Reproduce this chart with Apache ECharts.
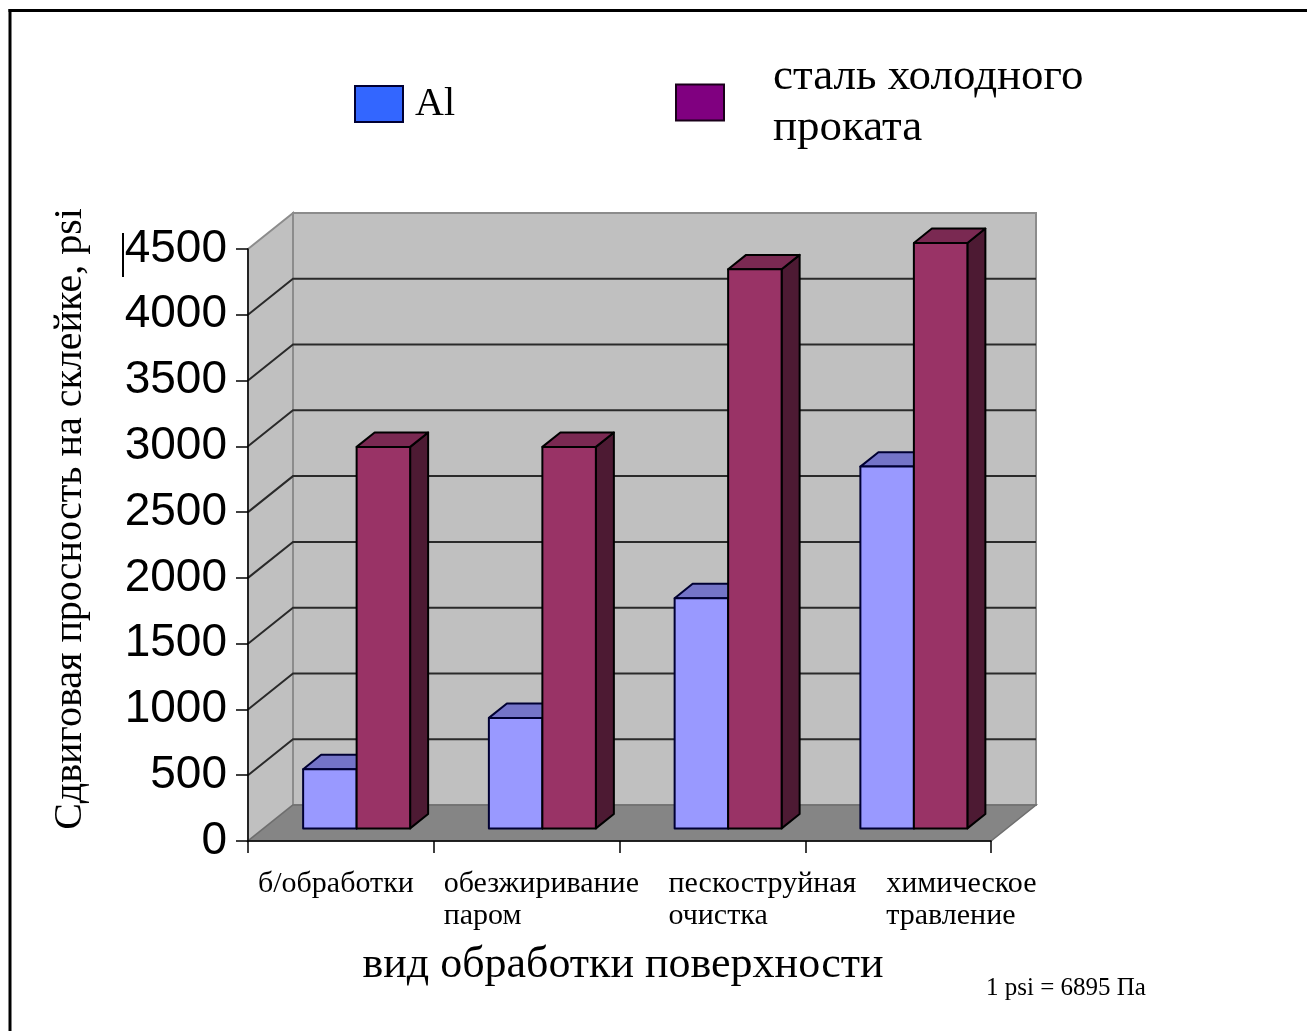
<!DOCTYPE html>
<html>
<head>
<meta charset="utf-8">
<script src="https://cdn.jsdelivr.net/npm/echarts@6/dist/echarts.min.js"></script>
<style>
  html, body { margin: 0; padding: 0; background: #ffffff; overflow: hidden; }
  #chart { width: 1307px; height: 1031px; }
</style>
</head>
<body>
<div id="chart"></div>
<script>
// Surface treatment categories (x axis)
const categories = ['б/обработки', 'обезжиривание\nпаром', 'пескоструйная\nочистка', 'химическое\nтравление'];
// Series names
const seriesNames = ['Al', 'сталь холодного\nпроката'];
// Shear strength of the bonded joint, psi
const alValues = [450, 840, 1750, 2750];
const steelValues = [2900, 2900, 4250, 4450];
// Value axis ticks
const yTicks = [0, 500, 1000, 1500, 2000, 2500, 3000, 3500, 4000, 4500];

const yAxisTitle = 'Сдвиговая просность на склейке, psi';
const xAxisTitle = 'вид обработки поверхности';
const unitNote = '1 psi = 6895 Па';

// --- pseudo-3D layout ---
const DEPTH_X = 45, DEPTH_Y = -36;        // wall depth offset in px
const BAR_FRONT = 0.35, BAR_BACK = 0.75;  // bar depth range as a share of wall depth
const BAR_SHARE = 0.288;                  // bar width as share of category band
const LABEL_SHIFT = [10, 10, 49, 81];     // category label offset from band start

const serif = '"Liberation Serif", "Times New Roman", serif';
const sans = '"Liberation Sans", Arial, sans-serif';

const WALL = '#c0c0c0', WALL_EDGE = '#8c8c8c', FLOOR = '#858585', GRID = '#2a2a2a';

function wallsItem(params, api) {
  const cs = params.coordSys;
  const l = cs.x, r = cs.x + cs.width, t = cs.y, b = cs.y + cs.height;
  return {
    type: 'group',
    children: [
      { type: 'polygon', shape: { points: [[l, t], [l + DEPTH_X, t + DEPTH_Y], [l + DEPTH_X, b + DEPTH_Y], [l, b]] },
        style: { fill: WALL, stroke: WALL_EDGE, lineWidth: 2 } },
      { type: 'rect', shape: { x: l + DEPTH_X, y: t + DEPTH_Y, width: cs.width, height: cs.height },
        style: { fill: WALL, stroke: WALL_EDGE, lineWidth: 2 } },
      { type: 'polygon', shape: { points: [[l, b], [r, b], [r + DEPTH_X, b + DEPTH_Y], [l + DEPTH_X, b + DEPTH_Y]] },
        style: { fill: FLOOR, stroke: '#6e6e6e', lineWidth: 1.5 } }
    ]
  };
}

function gridItem(params, api) {
  const cs = params.coordSys;
  const y = api.coord([0, api.value(1)])[1];
  const l = cs.x, r = cs.x + cs.width;
  return {
    type: 'polyline',
    shape: { points: [[l, y], [l + DEPTH_X, y + DEPTH_Y], [r + DEPTH_X, y + DEPTH_Y]] },
    style: { stroke: GRID, lineWidth: 2, fill: null }
  };
}

function barRenderer(slot, colors) {
  return function (params, api) {
    const idx = api.value(0), v = api.value(1);
    const band = api.size([1, 0])[0];
    const base = api.coord([idx, 0]);
    const top = api.coord([idx, v]);
    const bw = band * BAR_SHARE;
    const fx = DEPTH_X * BAR_FRONT, fy = DEPTH_Y * BAR_FRONT;
    const dx = DEPTH_X * (BAR_BACK - BAR_FRONT), dy = DEPTH_Y * (BAR_BACK - BAR_FRONT);
    const x0 = base[0] + fx + (slot - 1) * bw, x1 = x0 + bw;
    const yb = base[1] + fy, yt = top[1] + fy;
    const st = { stroke: colors.edge, lineWidth: 2, lineJoin: 'round' };
    return {
      type: 'group',
      children: [
        { type: 'polygon', shape: { points: [[x1, yt], [x1 + dx, yt + dy], [x1 + dx, yb + dy], [x1, yb]] },
          style: Object.assign({ fill: colors.side }, st) },
        { type: 'polygon', shape: { points: [[x0, yt], [x1, yt], [x1 + dx, yt + dy], [x0 + dx, yt + dy]] },
          style: Object.assign({ fill: colors.top }, st) },
        { type: 'rect', shape: { x: x0, y: yt, width: bw, height: yb - yt },
          style: Object.assign({ fill: colors.front }, st) }
      ]
    };
  };
}

function categoryLabel(params, api) {
  const cs = params.coordSys;
  const idx = api.value(0);
  const band = cs.width / categories.length;
  return {
    type: 'text',
    x: cs.x + idx * band + LABEL_SHIFT[idx],
    y: cs.y + cs.height + 27,
    style: {
      text: categories[idx], fill: '#000', fontFamily: serif, fontSize: 30,
      lineHeight: 32, align: 'left', verticalAlign: 'top'
    }
  };
}

const chart = echarts.init(document.getElementById('chart'), null, { renderer: 'canvas' });

chart.setOption({
  animation: false,
  backgroundColor: '#ffffff',
  grid: { left: 248, top: 249, width: 743, height: 592, containLabel: false },
  legend: [
    {
      left: 354, top: 82, padding: 0, icon: 'rect', itemWidth: 48, itemHeight: 36,
      selectedMode: false,
      textStyle: { fontFamily: serif, fontSize: 40, lineHeight: 44, color: '#000', padding: [0, 0, 0, 7] },
      data: [{ name: seriesNames[0], itemStyle: { color: '#3366ff', borderColor: '#000033', borderWidth: 2 } }]
    },
    {
      left: 675, top: 45, padding: 0, icon: 'rect', itemWidth: 48, itemHeight: 36,
      selectedMode: false,
      textStyle: { fontFamily: serif, fontSize: 45, lineHeight: 51, color: '#000', padding: [0, 0, 13, 44] },
      data: [{ name: seriesNames[1], itemStyle: { color: '#800080', borderColor: '#1a001a', borderWidth: 2 } }]
    }
  ],
  xAxis: {
    type: 'category', data: categories, z: 10,
    axisLine: { lineStyle: { color: '#000', width: 1.5 } },
    axisTick: { show: true, length: 12, interval: 0, lineStyle: { color: '#000', width: 1.5 } },
    axisLabel: { show: false },
    splitLine: { show: false }
  },
  yAxis: {
    type: 'value', min: yTicks[0], max: yTicks[yTicks.length - 1], interval: yTicks[1] - yTicks[0], z: 10,
    axisLine: { show: true, lineStyle: { color: '#000', width: 1.5 } },
    axisTick: { show: true, length: 12, lineStyle: { color: '#000', width: 1.5 } },
    axisLabel: { margin: 21, fontFamily: sans, fontSize: 46, color: '#000', formatter: v => String(v) },
    splitLine: { show: false }
  },
  series: [
    { type: 'custom', name: 'walls', z: 1, silent: true, renderItem: wallsItem, data: [[0, 0]] },
    { type: 'custom', name: 'grid', z: 2, silent: true, renderItem: gridItem,
      data: yTicks.filter(v => v > yTicks[0] && v < yTicks[yTicks.length - 1]).map(v => [0, v]) },
    { type: 'custom', name: seriesNames[0], z: 3, renderItem: barRenderer(0, { front: '#9999ff', top: '#7474c8', side: '#5c5ca8', edge: '#000033' }),
      itemStyle: { color: '#3366ff' }, encode: { x: 0, y: 1 }, data: alValues.map((v, i) => [i, v]) },
    { type: 'custom', name: seriesNames[1], z: 4, renderItem: barRenderer(1, { front: '#993366', top: '#7a2952', side: '#4d1a33', edge: '#000000' }),
      itemStyle: { color: '#800080' }, encode: { x: 0, y: 1 }, data: steelValues.map((v, i) => [i, v]) },
    { type: 'custom', name: 'labels', z: 5, silent: true, renderItem: categoryLabel,
      data: categories.map((c, i) => [i, 0]) }
  ],
  graphic: [
    // page frame: only the top and left edges fall inside the view
    { type: 'line', shape: { x1: 8.5, y1: 10.5, x2: 1320, y2: 10.5 }, style: { stroke: '#000', lineWidth: 3 }, silent: true },
    { type: 'line', shape: { x1: 10, y1: 9, x2: 10, y2: 1040 }, style: { stroke: '#000', lineWidth: 3 }, silent: true },
    { type: 'line', shape: { x1: 123, y1: 233, x2: 123, y2: 277 }, style: { stroke: '#000', lineWidth: 2 }, silent: true },
    { type: 'text', x: 70, y: 519, rotation: Math.PI / 2,
      style: { text: yAxisTitle, fontFamily: serif, fontSize: 40, fill: '#000', align: 'center', verticalAlign: 'middle' } },
    { type: 'text', x: 623, y: 965,
      style: { text: xAxisTitle, fontFamily: serif, fontSize: 44, fill: '#000', align: 'center', verticalAlign: 'middle' } },
    { type: 'text', x: 986, y: 988,
      style: { text: unitNote, fontFamily: serif, fontSize: 25, fill: '#000', align: 'left', verticalAlign: 'middle' } }
  ]
});
</script>
</body>
</html>
